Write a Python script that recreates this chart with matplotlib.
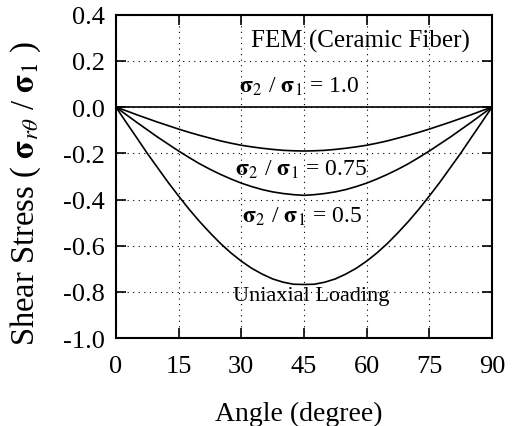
import numpy as np
import matplotlib.pyplot as plt

plt.rcParams['font.family'] = ['Liberation Serif', 'DejaVu Serif']
plt.rcParams['mathtext.fontset'] = 'stix'

# angle (degree) and shear stress ratio
angle = [0, 2.5, 5, 7.5, 10, 12.5, 15, 17.5, 20, 22.5, 25, 27.5, 30, 32.5, 35, 37.5, 40, 42.5, 45,
         47.5, 50, 52.5, 55, 57.5, 60, 62.5, 65, 67.5, 70, 72.5, 75, 77.5, 80, 82.5, 85, 87.5, 90]
half_075 = [0, -0.016, -0.033, -0.049, -0.065, -0.08, -0.095, -0.109, -0.122, -0.134,
            -0.146, -0.156, -0.165, -0.172, -0.178, -0.183, -0.187, -0.189, -0.19]
half_05 = [0, -0.033, -0.066, -0.098, -0.13, -0.16, -0.19, -0.218, -0.245, -0.269,
           -0.291, -0.311, -0.329, -0.344, -0.357, -0.367, -0.374, -0.379, -0.382]
half_uni = [0, -0.067, -0.133, -0.2, -0.263, -0.326, -0.385, -0.442, -0.495, -0.544,
            -0.59, -0.631, -0.667, -0.698, -0.723, -0.744, -0.758, -0.767, -0.768]
# curves are symmetric about 45 degrees
ratio_075 = half_075 + half_075[-2::-1]
ratio_05 = half_05 + half_05[-2::-1]
uniaxial = half_uni + half_uni[-2::-1]
ratio_10 = [0.0] * len(angle)

xticks = [0, 15, 30, 45, 60, 75, 90]
yticks = [0.4, 0.2, 0.0, -0.2, -0.4, -0.6, -0.8, -1.0]

fig = plt.figure(figsize=(5.13, 4.27), dpi=100)
ax = fig.add_axes([0.226, 0.206, 0.733, 0.757])

for s in [ratio_10, ratio_075, ratio_05, uniaxial]:
    ax.plot(angle, s, color='black', lw=1.2)

ax.set_xlim(0, 90)
ax.set_ylim(-1.0, 0.4)
ax.set_xticks(xticks)
ax.set_yticks(yticks)
ax.set_yticklabels([f'{v:.1f}' for v in yticks])
ax.grid(True, ls=(0, (1, 4)), color='black', lw=0.8)
ax.tick_params(direction='in', length=7, width=1.2, top=True, right=True,
               labelsize=19)
ax.tick_params(axis='x', pad=12)
ax.tick_params(axis='y', pad=8)
for sp in ax.spines.values():
    sp.set_linewidth(1.5)

ax.set_xlabel('Angle (degree)', fontsize=20)
ax.xaxis.set_label_coords(0.485, -0.195)
ax.set_ylabel(r'Shear Stress ( $\mathbf{\sigma}_{r\theta}$ / $\mathbf{\sigma}_1$ )', fontsize=23.5)
ax.yaxis.set_label_coords(-0.194, 0.45)

ax.text(58.4, 0.287, 'FEM (Ceramic Fiber)', fontsize=18, ha='center', va='center')
ax.text(43.8, 0.092, r'$\mathbf{\sigma}_2$ / $\mathbf{\sigma}_1$ = 1.0', fontsize=17, ha='center', va='center')
ax.text(44.3, -0.267, r'$\mathbf{\sigma}_2$ / $\mathbf{\sigma}_1$ = 0.75', fontsize=17, ha='center', va='center')
ax.text(44.6, -0.471, r'$\mathbf{\sigma}_2$ / $\mathbf{\sigma}_1$ = 0.5', fontsize=17, ha='center', va='center')
ax.text(46.8, -0.814, 'Uniaxial Loading', fontsize=16, ha='center', va='center')

fig.savefig('out.png', dpi=100)
